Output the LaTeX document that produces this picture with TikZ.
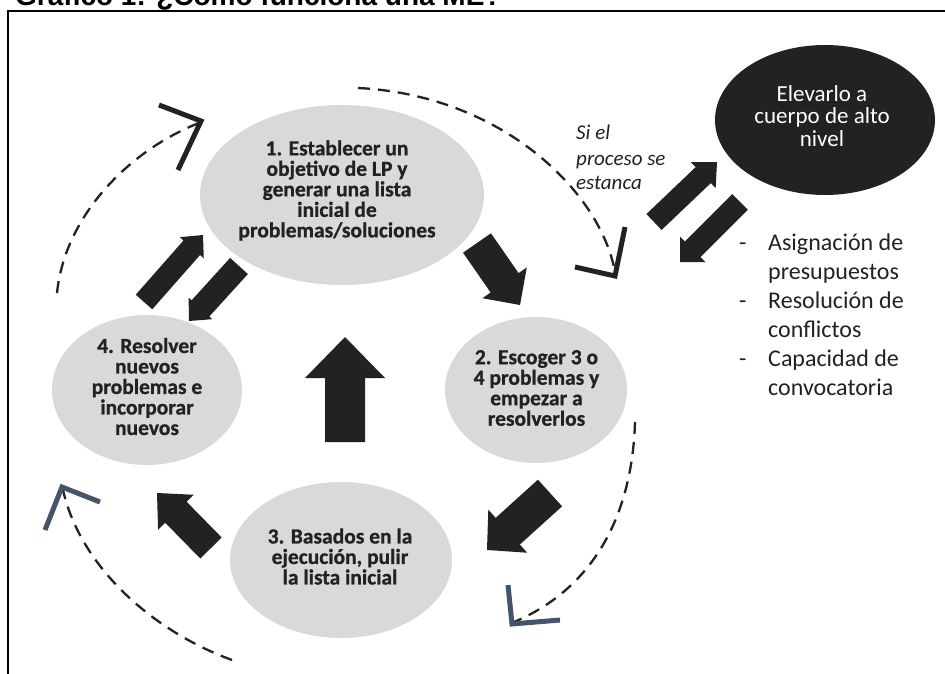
\documentclass[tikz,border=0pt]{standalone}
\usepackage{fontspec}
\setmainfont{Carlito}
\newfontfamily\heavyfont[BoldFeatures={FakeBold=0.8}]{Carlito}
\newfontfamily\titlefont{Liberation Sans}
\usetikzlibrary{calc,shapes.geometric}
\definecolor{ellgray}{HTML}{D9D9D9}
\definecolor{ink}{HTML}{222222}
\definecolor{chevblue}{HTML}{44546A}
\tikzset{
  gell/.style={ellipse, fill=ellgray, draw=none, inner sep=0pt},
  bell/.style={ellipse, fill=ink, draw=none, inner sep=0pt},
  btext/.style={align=center, inner sep=0pt, text=ink, font=\heavyfont\bfseries\fontsize{21.5}{20.5}\selectfont},
  wtext/.style={align=center, inner sep=0pt, text=white, font=\fontsize{23}{22.5}\selectfont},
  itext/.style={anchor=base west, inner sep=0pt, text=ink, font=\itshape\fontsize{21}{24}\selectfont},
  ltext/.style={anchor=base west, inner sep=0pt, text=ink, font=\fontsize{24}{29}\selectfont},
  dashcurve/.style={draw=ink, line width=2.3pt, dash pattern=on 12pt off 8pt},
  chevdark/.style={draw=ink, line width=5pt, line join=miter, line cap=butt},
  chevlight/.style={draw=chevblue, line width=5pt, line join=miter, line cap=butt},
  arrowfill/.style={fill=ink},
}
\newcommand\blockarr[5]{%
  \coordinate (hb) at ($(#2)!#5!(#1)$);
  \fill[arrowfill] ($(#1)!#3!90:(#2)$) -- ($(hb)!#3!90:(#2)$) -- ($(hb)!#4!90:(#2)$) -- (#2)
    -- ($(hb)!#4!-90:(#2)$) -- ($(hb)!#3!-90:(#2)$) -- ($(#1)!#3!-90:(#2)$) -- cycle;}
\begin{document}
\begin{tikzpicture}[x=1pt,y=-1pt]
\useasboundingbox (0,0) rectangle (945,674);
\clip (0,0) rectangle (945,674);
\fill[white] (0,0) rectangle (945,674);

% title (cut off at the top, as in the source)
\node[anchor=base west, inner sep=0pt, font=\titlefont\bfseries\fontsize{28}{28}\selectfont] (title) at (15,6) {Gráfico 1: ¿Cómo funciona una ME?};

% frame
\draw[line width=2.2pt, draw=black] (8,680) -- (8,11) -- (950,11);

% ellipses
\node[gell, minimum width=284pt, minimum height=180pt] (e1) at (342,195) {};
\node[gell, minimum width=182pt, minimum height=146pt] (e2) at (536,390) {};
\node[gell, minimum width=222pt, minimum height=156pt] (e3) at (341,560) {};
\node[gell, minimum width=190pt, minimum height=150pt] (e4) at (147,390) {};
\node[bell, minimum width=220pt, minimum height=150pt] (eb) at (825,120) {};

% ellipse texts
\node[btext] (t1) at (337,190.5) {1. Establecer un\\objetivo de LP y\\generar una lista\\inicial de\\problemas/soluciones};
\node[btext] (t2) at (536.5,388) {2. Escoger 3 o\\4 problemas y\\empezar a\\resolverlos};
\node[btext] (t3) at (340,556.5) {3. Basados en la\\ejecución, pulir\\la lista inicial};
\node[btext] (t4) at (147,386.5) {4. Resolver\\nuevos\\problemas e\\incorporar\\nuevos};
\node[wtext] (tb) at (822,116) {Elevarlo a\\cuerpo de alto\\nivel};

% italic note
\node[itext] (n1) at (576,140) {Si el};
\node[itext] (n2) at (576,165) {proceso se};
\node[itext] (n3) at (576,189) {estanca};

% list
\node[ltext] (d1) at (739,250) {-};
\node[ltext] (l1) at (768,250) {Asignación de};
\node[ltext] (l2) at (768,279) {presupuestos};
\node[ltext] (d2) at (739,308) {-};
\node[ltext] (l3) at (768,308) {Resolución de};
\node[ltext] (l4) at (768,337) {conflictos};
\node[ltext] (d3) at (739,366) {-};
\node[ltext] (l5) at (768,366) {Capacidad de};
\node[ltext] (l6) at (768,395) {convocatoria};

% block arrows
\coordinate (aT) at (144,302); \coordinate (aP) at (203,235);
\coordinate (bT) at (239,266); \coordinate (bP) at (189,321);
\coordinate (cT) at (477,243); \coordinate (cP) at (520,305);
\coordinate (dT) at (654,222); \coordinate (dP) at (717,162);
\coordinate (eT) at (740,202); \coordinate (eP) at (680,262);
\coordinate (fT) at (550,493); \coordinate (fP) at (487,550);
\coordinate (gT) at (345,442); \coordinate (gP) at (345,337);
\coordinate (hT) at (211,548); \coordinate (hP) at (157,493);
\blockarr{aT}{aP}{11pt}{16pt}{17pt}
\blockarr{bT}{bP}{12pt}{16pt}{17pt}
\blockarr{cT}{cP}{17pt}{27pt}{27pt}
\blockarr{dT}{dP}{11pt}{18pt}{19pt}
\blockarr{eT}{eP}{11pt}{18pt}{18pt}
\blockarr{fT}{fP}{18pt}{29pt}{28pt}
\blockarr{gT}{gP}{20pt}{40pt}{41pt}
\blockarr{hT}{hP}{15pt}{25pt}{27pt}

% dashed curves
\coordinate (s1) at (358,88);  \coordinate (c1) at (615,272);
\coordinate (s2) at (57,293);  \coordinate (c2) at (199,123);
\coordinate (s3) at (635,422); \coordinate (c3) at (514,622);
\coordinate (s4) at (232,660); \coordinate (c4) at (63,490);
\draw[dashcurve] (s1) .. controls (500,95) and (600,190) .. (c1);
\draw[dashcurve] (s2) .. controls (65,215) and (130,150) .. (c2);
\draw[dashcurve] (s3) .. controls (632,520) and (590,590) .. (c3);
\draw[dashcurve] (s4) .. controls (150,630) and (80,565) .. (c4);

% chevrons
\draw[chevdark] (575,267) -- (615,276) -- (625,227);
\draw[chevdark] (159,105) -- (201,121) -- (178,170);
\draw[chevlight] (100,502) -- (62,487) -- (45,530);
\draw[chevlight] (508,585) -- (512,624) -- (560,620);
\end{tikzpicture}
\end{document}
